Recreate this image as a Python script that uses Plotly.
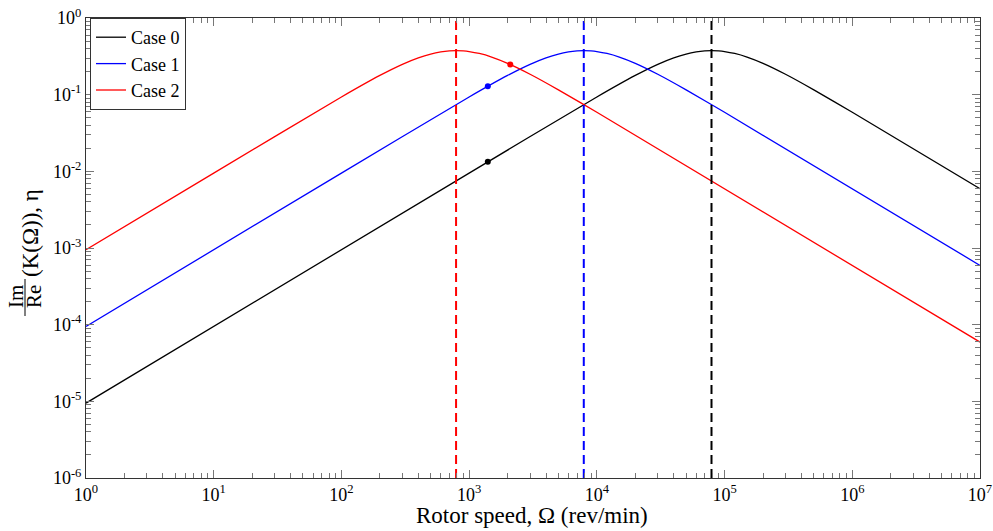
import plotly.graph_objects as go

# ---- data ----
case0_x = [1, 1e3, 1e4, 2e4, 3e4, 4e4, 5e4, 6e4, 7e4, 7.9e4, 9e4, 1e5, 1.2e5, 1.5e5, 2e5, 3e5, 5e5, 1e6, 1e7]
case0_y = [9.49e-6, 9.49e-3, 0.0934, 0.1784, 0.2489, 0.3022, 0.3389, 0.3613, 0.3723, 0.375, 0.3718, 0.3648,
           0.3444, 0.3092, 0.2563, 0.1847, 0.1156, 0.0589, 5.93e-3]

case1_x = [1, 100, 1e3, 2e3, 3e3, 4e3, 5e3, 6e3, 7e3, 7.9e3, 9e3, 1e4, 1.2e4, 1.5e4, 2e4, 3e4, 5e4, 1e5, 1e7]
case1_y = [9.49e-5, 9.49e-3, 0.0934, 0.1784, 0.2489, 0.3022, 0.3389, 0.3613, 0.3723, 0.375, 0.3718, 0.3648,
           0.3444, 0.3092, 0.2563, 0.1847, 0.1156, 0.0589, 5.93e-4]

case2_x = [1, 10, 100, 200, 300, 400, 500, 600, 700, 790, 900, 1000, 1200, 1500, 2000, 3000, 5000, 1e4, 1e7]
case2_y = [9.49e-4, 9.49e-3, 0.0934, 0.1784, 0.2489, 0.3022, 0.3389, 0.3613, 0.3723, 0.375, 0.3718, 0.3648,
           0.3444, 0.3092, 0.2563, 0.1847, 0.1156, 0.0589, 5.93e-5]

peak_x = [7.9e4, 7.9e3, 7.9e2]          # dashed vertical lines
marker_x = [1400, 1400, 2100]            # dots
marker_y = [0.0133, 0.129, 0.247]

names = ["Case 0", "Case 1", "Case 2"]
colors = ["#000000", "#0000ff", "#ff0000"]

x_tickvals = [1, 10, 100, 1e3, 1e4, 1e5, 1e6, 1e7]
x_ticktext = ["10<sup>0</sup>", "10<sup>1</sup>", "10<sup>2</sup>", "10<sup>3</sup>",
              "10<sup>4</sup>", "10<sup>5</sup>", "10<sup>6</sup>", "10<sup>7</sup>"]
y_tickvals = [1e-6, 1e-5, 1e-4, 1e-3, 1e-2, 1e-1, 1]
y_ticktext = ["10<sup>-6</sup>", "10<sup>-5</sup>", "10<sup>-4</sup>", "10<sup>-3</sup>",
              "10<sup>-2</sup>", "10<sup>-1</sup>", "10<sup>0</sup>"]

x_minor = [m * 10 ** e for e in range(0, 7) for m in range(2, 10)]
y_minor = [m * 10.0 ** e for e in range(-6, 0) for m in range(2, 10)]

FONT = "Liberation Serif"

fig = go.Figure()
series = [(case0_x, case0_y), (case1_x, case1_y), (case2_x, case2_y)]
for i, (xs, ys) in enumerate(series):
    fig.add_trace(go.Scatter(x=xs, y=ys, mode="lines", name=names[i],
                             line=dict(color=colors[i], width=1.3, shape="spline", smoothing=0.6)))
for i in range(3):
    fig.add_trace(go.Scatter(x=[peak_x[i], peak_x[i]], y=[1e-6, 1], mode="lines", showlegend=False,
                             line=dict(color=colors[i], width=2, dash="9px,5px")))
for i in range(3):
    fig.add_trace(go.Scatter(x=[marker_x[i]], y=[marker_y[i]], mode="markers", showlegend=False,
                             marker=dict(color=colors[i], size=6)))

axis_common = dict(type="log", showgrid=False, zeroline=False, showline=True, linecolor="#333333",
                   linewidth=1, ticks="inside", ticklen=8, tickcolor="#777777", mirror="allticks",
                   automargin=False,
                   tickfont=dict(family=FONT, size=18, color="black"))

fig.update_xaxes(range=[0, 7], tickmode="array", tickvals=x_tickvals, ticktext=x_ticktext,
                 minor=dict(tickmode="array", tickvals=x_minor, ticks="inside", ticklen=5,
                            tickcolor="#777777", showgrid=False),
                 **axis_common)
fig.update_yaxes(range=[-6, 0], tickmode="array", tickvals=y_tickvals, ticktext=y_ticktext,
                 minor=dict(tickmode="array", tickvals=y_minor, ticks="inside", ticklen=5,
                            tickcolor="#777777", showgrid=False),
                 **axis_common)

L, R, T, B = 86, 13, 18, 53
W, H = 993, 531
pw, ph = W - L - R, H - T - B


def px(xp):
    return (xp - L) / pw


def py(yp):
    return (H - B - yp) / ph


# x-axis title
fig.add_annotation(text="Rotor speed, Ω (rev/min)", x=px(532), y=py(515), xref="paper", yref="paper",
                   showarrow=False, xanchor="center", yanchor="middle",
                   font=dict(family=FONT, size=23, color="black"))

# y-axis title: fraction Im/Re followed by (K(Ω)), η
lab_font = dict(family=FONT, size=21, color="black")
fig.add_annotation(text="Im", x=px(16), y=py(297), xref="paper", yref="paper", textangle=-90,
                   showarrow=False, xanchor="center", yanchor="middle", font=lab_font)
fig.add_annotation(text="Re", x=px(34), y=py(297), xref="paper", yref="paper", textangle=-90,
                   showarrow=False, xanchor="center", yanchor="middle", font=lab_font)
fig.add_shape(type="line", xref="paper", yref="paper", x0=px(25), x1=px(25), y0=py(279), y1=py(316),
              line=dict(color="black", width=1))
fig.add_annotation(text="(K(Ω)), η", x=px(31), y=py(233), xref="paper", yref="paper", textangle=-90,
                   showarrow=False, xanchor="center", yanchor="middle",
                   font=dict(family=FONT, size=23, color="black"))

fig.update_layout(
    width=W, height=H,
    margin=dict(l=L, r=R, t=T, b=B),
    paper_bgcolor="white", plot_bgcolor="white",
    font=dict(family=FONT, color="black"),
    legend=dict(x=px(90), y=1, xanchor="left", yanchor="top", bgcolor="white",
                bordercolor="#333333", borderwidth=1, font=dict(family=FONT, size=18, color="black"),
                tracegroupgap=0, itemwidth=30),
    showlegend=True,
)

fig.write_html("out.html")
